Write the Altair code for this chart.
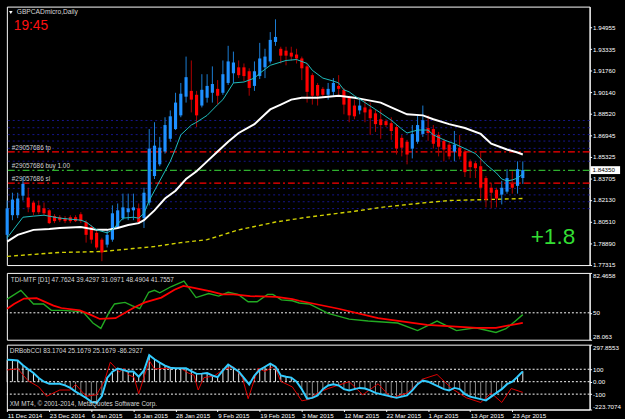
import json
import altair as alt
import pandas as pd

FONT = "Liberation Sans"

# ---------------- data ----------------
date_labels = ["11 Dec 2014", "23 Dec 2014", "6 Jan 2015", "16 Jan 2015", "28 Jan 2015",
               "9 Feb 2015", "19 Feb 2015", "3 Mar 2015", "12 Mar 2015", "22 Mar 2015",
               "1 Apr 2015", "13 Apr 2015", "23 Apr 2015"]

opens = [1.7954, 1.8100, 1.8100, 1.8245, 1.8231, 1.8194, 1.8173, 1.8151, 1.8136, 1.8093,
         1.8085, 1.8078, 1.8085, 1.8085, 1.8107, 1.8049, 1.8012, 1.7969, 1.7918, 1.7881,
         1.7918, 1.8012, 1.8078, 1.8122, 1.8136, 1.8151, 1.8078, 1.8194, 1.8391, 1.8478,
         1.8573, 1.8668, 1.8740, 1.8842, 1.8981, 1.9024, 1.8995, 1.8915, 1.8973, 1.9010,
         1.9039, 1.9010, 1.9083, 1.9155, 1.9199, 1.9199, 1.9170, 1.9061, 1.9134, 1.9199,
         1.9243, 1.9388, 1.9337, 1.9323, 1.9308, 1.9294, 1.9265, 1.9206, 1.9141, 1.9068,
         1.9039, 1.8995, 1.9017, 1.9061, 1.9032, 1.8973, 1.8915, 1.8879, 1.8901, 1.8886,
         1.8857, 1.8813, 1.8799, 1.8784, 1.8755, 1.8675, 1.8646, 1.8595, 1.8646, 1.8704,
         1.8748, 1.8740, 1.8697, 1.8653, 1.8624, 1.8573, 1.8602, 1.8573, 1.8500, 1.8486,
         1.8464, 1.8376, 1.8304, 1.8289, 1.8253, 1.8275, 1.8333, 1.8318, 1.8376]
highs = [1.8209, 1.8267, 1.8267, 1.8384, 1.8304, 1.8209, 1.8209, 1.8194, 1.8144, 1.8107,
         1.8100, 1.8093, 1.8100, 1.8100, 1.8122, 1.8063, 1.8027, 1.7991, 1.7932, 1.7991,
         1.8173, 1.8187, 1.8260, 1.8260, 1.8260, 1.8187, 1.8304, 1.8740, 1.8791, 1.8682,
         1.8828, 1.8879, 1.9010, 1.9083, 1.9279, 1.9250, 1.9024, 1.9148, 1.9148, 1.9206,
         1.9104, 1.9250, 1.9359, 1.9316, 1.9250, 1.9228, 1.9192, 1.9243, 1.9381, 1.9337,
         1.9461, 1.9556, 1.9352, 1.9352, 1.9352, 1.9337, 1.9279, 1.9228, 1.9155, 1.9083,
         1.9053, 1.9083, 1.9119, 1.9141, 1.9046, 1.8988, 1.8959, 1.8959, 1.8959, 1.8937,
         1.8886, 1.8886, 1.8813, 1.8828, 1.8770, 1.8697, 1.8660, 1.8770, 1.8842, 1.8915,
         1.8842, 1.8770, 1.8719, 1.8668, 1.8646, 1.8726, 1.8697, 1.8588, 1.8515, 1.8500,
         1.8573, 1.8391, 1.8340, 1.8304, 1.8355, 1.8442, 1.8427, 1.8500, 1.8500]
lows = [1.7918, 1.8063, 1.8078, 1.8209, 1.8122, 1.8100, 1.8107, 1.8100, 1.8034, 1.8041,
        1.8049, 1.8041, 1.8041, 1.8049, 1.8041, 1.7896, 1.7889, 1.7845, 1.7758, 1.7860,
        1.7903, 1.7998, 1.8063, 1.8063, 1.8063, 1.8034, 1.8005, 1.8173, 1.8369, 1.8464,
        1.8558, 1.8646, 1.8733, 1.8828, 1.8937, 1.8864, 1.8755, 1.8901, 1.8937, 1.8937,
        1.8922, 1.8995, 1.9068, 1.9083, 1.9119, 1.9097, 1.8988, 1.9024, 1.9112, 1.9119,
        1.9228, 1.9359, 1.9228, 1.9214, 1.9250, 1.9228, 1.9104, 1.8937, 1.8922, 1.8915,
        1.8973, 1.8959, 1.8988, 1.8995, 1.8850, 1.8791, 1.8813, 1.8850, 1.8791, 1.8697,
        1.8719, 1.8668, 1.8755, 1.8660, 1.8551, 1.8537, 1.8478, 1.8522, 1.8631, 1.8682,
        1.8653, 1.8595, 1.8537, 1.8500, 1.8515, 1.8500, 1.8515, 1.8384, 1.8376, 1.8376,
        1.8224, 1.8158, 1.8151, 1.8158, 1.8180, 1.8260, 1.8260, 1.8260, 1.8333]
closes = [1.8151, 1.8216, 1.8224, 1.8333, 1.8158, 1.8122, 1.8122, 1.8114, 1.8041, 1.8056,
          1.8063, 1.8056, 1.8056, 1.8056, 1.8056, 1.7954, 1.7918, 1.7860, 1.7823, 1.7954,
          1.8114, 1.8136, 1.8158, 1.8151, 1.8158, 1.8049, 1.8267, 1.8595, 1.8617, 1.8602,
          1.8770, 1.8835, 1.8937, 1.9003, 1.9126, 1.8959, 1.8842, 1.9032, 1.9061, 1.9075,
          1.8988, 1.9148, 1.9243, 1.9235, 1.9141, 1.9134, 1.9046, 1.9170, 1.9265, 1.9279,
          1.9403, 1.9425, 1.9286, 1.9286, 1.9279, 1.9265, 1.9192, 1.9017, 1.8988, 1.8988,
          1.8995, 1.9039, 1.9083, 1.9039, 1.8922, 1.8842, 1.8835, 1.8915, 1.8864, 1.8821,
          1.8777, 1.8770, 1.8770, 1.8726, 1.8595, 1.8602, 1.8551, 1.8704, 1.8770, 1.8806,
          1.8711, 1.8631, 1.8609, 1.8588, 1.8537, 1.8624, 1.8537, 1.8420, 1.8457, 1.8449,
          1.8304, 1.8216, 1.8267, 1.8224, 1.8304, 1.8376, 1.8304, 1.8442, 1.8435]

# moving averages (bar index, price)
ma_fast_bar = [0, 3, 5, 7, 10, 14, 15, 17, 19, 20, 22, 24, 25, 26, 27, 29, 31, 32, 33, 35, 36, 38, 40, 41,
               43, 45, 47, 48, 50, 53, 55, 57, 58, 60, 62, 63, 64, 65, 66, 68, 70, 73, 75, 76, 78, 80,
               81, 83, 85, 87, 89, 91, 93, 94, 95, 96, 97, 98]
ma_fast_val = [1.7932, 1.8085, 1.8093, 1.8100, 1.8078, 1.8063, 1.8049, 1.7991, 1.7969, 1.7991, 1.8078,
               1.8085, 1.8078, 1.8114, 1.8209, 1.8355, 1.8500, 1.8595, 1.8697, 1.8770, 1.8791, 1.8842,
               1.8922, 1.8959, 1.9083, 1.9090, 1.9119, 1.9155, 1.9214, 1.9250, 1.9257, 1.9228, 1.9177,
               1.9119, 1.9097, 1.9083, 1.9032, 1.9017, 1.8988, 1.8937, 1.8886, 1.8806, 1.8740, 1.8711,
               1.8733, 1.8733, 1.8697, 1.8660, 1.8631, 1.8595, 1.8558, 1.8478, 1.8413, 1.8369, 1.8355,
               1.8362, 1.8376, 1.8406]
ma_mid_bar = [0, 2, 5, 8, 10, 14, 17, 19, 21, 23, 25, 26, 28, 30, 32, 34, 36, 38, 40, 42, 44, 47, 49, 50,
              52, 54, 56, 59, 61, 63, 66, 68, 71, 73, 76, 79, 81, 84, 87, 90, 92, 95, 97, 98]
ma_mid_val = [1.7903, 1.7954, 1.7991, 1.7998, 1.8005, 1.8012, 1.7991, 1.7991, 1.8005, 1.8027, 1.8041,
              1.8063, 1.8136, 1.8224, 1.8282, 1.8369, 1.8427, 1.8500, 1.8573, 1.8646, 1.8711, 1.8777,
              1.8850, 1.8886, 1.8922, 1.8959, 1.8973, 1.8973, 1.8981, 1.8988, 1.8973, 1.8959, 1.8937,
              1.8901, 1.8850, 1.8842, 1.8813, 1.8777, 1.8748, 1.8704, 1.8631, 1.8588, 1.8566, 1.8551]
ma_slow_bar = [0, 10, 18, 24, 28, 33, 38, 44, 51, 57, 66, 71, 78, 84, 91, 98]
ma_slow_val = [1.7794, 1.7823, 1.7830, 1.7852, 1.7867, 1.7896, 1.7918, 1.7991, 1.8049, 1.8085, 1.8129,
               1.8158, 1.8187, 1.8209, 1.8216, 1.8224]

grid_levels = [1.8804, 1.8750, 1.8699, 1.8651, 1.8597, 1.8501, 1.8299, 1.8251, 1.8200, 1.8149]
order_names = ["#29057686 tp", "#29057686 buy 1.00", "#29057686 sl"]
order_prices = [1.8571, 1.8433, 1.8338]
order_colors = ["#FF0000", "#2FB02F", "#FF0000"]
price_ticks = [1.94955, 1.93335, 1.91760, 1.90140, 1.88520, 1.86945, 1.85325,
               1.83705, 1.82130, 1.80510, 1.78890, 1.77315]
bid_price = 1.84350

# TDI
tdi_green_bar = [0, 2.6, 5, 6.9, 8.4, 10.7, 14.4, 16.3, 17.8, 19.4, 20.4, 22.4, 23.7, 25.2, 26.9, 28, 29,
                 31.2, 33.6, 35.9, 38.3, 40.2, 42, 43.9, 45.8, 47.5, 49.5, 50.5, 52.1, 54.2, 55.5, 57.4,
                 61, 65, 68.6, 74.2, 78, 81.7, 85.4, 89, 92.9, 94.8, 96.6, 98]
tdi_green_val = [61.1, 68.3, 57.2, 57.2, 52.0, 52.0, 50.8, 41.7, 37.3, 50.8, 57.2, 58.5, 55.9, 53.3, 66.7,
                 68.3, 66.3, 71.4, 75.8, 62.4, 65.7, 63.6, 66.7, 65.0, 59.0, 59.0, 65.0, 65.0, 60.5, 59.8,
                 58.0, 57.2, 49.5, 44.8, 43.3, 41.7, 35.5, 43.3, 35.5, 37.8, 34.0, 37.0, 43.3, 48.5]
tdi_red_bar = [0, 1.3, 3.2, 5.6, 8.8, 10.3, 13.8, 15.7, 17.6, 20.6, 24.3, 26.2, 29.3, 31.8, 33.5, 35.5,
               38.7, 40.9, 43, 46.2, 51.2, 54.2, 55.5, 63, 70.5, 79.8, 89.2, 92.9, 98]
tdi_red_val = [53.3, 57.2, 61.6, 61.9, 55.9, 53.9, 52.0, 48.7, 45.0, 45.6, 54.7, 58.5, 62.4, 68.8, 71.9,
               70.2, 67.5, 65.0, 65.0, 63.6, 62.9, 61.1, 59.8, 53.3, 45.6, 40.2, 37.8, 37.8, 41.8]

# DRBobCCI
cci_vals = [177, 175, 170, 133, 100, 70, 30, 0, -17, -17, -17, -30, -50, -80, -105, -130, -162, -170,
            -115, 30, 80, 105, 95, 82, 82, 40, 90, 213, 180, 153, 130, 112, 108, 108, 108, 85, 63, 65,
            70, 50, 37, 90, 138, 110, 82, 30, -22, 50, 95, 120, 145, 120, 50, 40, 33, 0, -60, -137,
            -130, -110, -60, -30, -20, -30, -60, -70, -60, -50, -55, -70, -90, -100, -110, -120, -130,
            -120, -110, -70, -20, 10, 0, -20, -40, -60, -70, -50, -60, -100, -120, -130, -140, -150,
            -120, -90, -60, -20, 0, 40, 83]
cci_red_bar = [0, 2, 4, 6, 7.5, 10, 12, 13, 15, 17, 18.5, 19.6, 21.3, 22.2, 23.2, 24.1, 25, 27, 28, 30.6,
               33, 34.4, 35.5, 36.3, 37.4, 39.3, 41, 43, 44.7, 45.8, 47.7, 49, 50.8, 52, 54.2, 56, 57.4,
               58.9, 61, 65, 67.6, 70.5, 73, 76, 78.9, 81.7, 84.5, 87.3, 90, 92, 94, 95.8, 98]
cci_red_val = [95, 103, 7, -42, -117, -67, -67, -22, -117, -105, 7, 157, 78, 108, 52, 37, -97, 170, 103,
               108, 108, 70, 52, -67, 33, 45, 95, 120, 33, -137, 108, 82, 127, 3, -42, -154, -142, -92,
               -55, 0, -105, -17, -130, -92, 20, 58, -55, -130, -167, -92, -167, -55, -86]

# ---------------- frames ----------------
n = len(opens)
candles = pd.DataFrame({"i": list(range(n)), "o": opens, "h": highs, "l": lows, "c": closes})
fast = pd.DataFrame({"i": ma_fast_bar, "v": ma_fast_val})
mid = pd.DataFrame({"i": ma_mid_bar, "v": ma_mid_val})
slow = pd.DataFrame({"i": ma_slow_bar, "v": ma_slow_val})
grid = pd.DataFrame({"p": grid_levels})
orders = pd.DataFrame({"name": order_names, "p": order_prices, "col": order_colors})
tg = pd.DataFrame({"i": tdi_green_bar, "v": tdi_green_val})
tr = pd.DataFrame({"i": tdi_red_bar, "v": tdi_red_val})
cci = pd.DataFrame({"i": list(range(n)), "v": cci_vals})
ccr = pd.DataFrame({"i": cci_red_bar, "v": cci_red_val})

W = 593
XS = alt.Scale(domain=[-0.056, 110.70], nice=False, zero=False)
PS = alt.Scale(domain=[1.77293, 1.96505], nice=False, zero=False)
TS = alt.Scale(domain=[28.063, 82.4658], nice=False, zero=False)
CS = alt.Scale(domain=[-223.7074, 297.8553], nice=False, zero=False)

AX = dict(labelColor="white", tickColor="white", domainColor="white", tickSize=2, labelPadding=1,
          labelFontSize=6.3, labelFont=FONT, grid=False, title=None, orient="right", labelOverlap=False)
p_axis = alt.Axis(values=price_ticks, format=".5f", **AX)
t_axis = alt.Axis(values=[28.063, 50, 82.4658], format=".4~f", labelFlush=True, **AX)
c_axis = alt.Axis(values=[-223.7074, -100, 0, 100, 297.8553], labelFlush=True,
                  labelExpr="datum.value == 0 ? '0.00' : replace(format(datum.value, '.4~f'), '\u2212', '-')",
                  **AX)
xn = alt.X("i:Q", scale=XS, axis=None)
x_axis = alt.Axis(
    values=list(range(0, 97, 8)), labelExpr=json.dumps(date_labels) + "[round(datum.value / 8)]",
    labelAlign="left", labelColor="white", tickColor="white", domainColor="white", tickSize=2,
    labelPadding=1, labelFontSize=6.3, labelFont=FONT, grid=False, title=None, labelFlush=False,
    labelOverlap=False, labelBaseline="top")
xd = alt.X("i:Q", scale=XS, axis=x_axis)

up = "datum.c >= datum.o"
wick = alt.Chart(candles).mark_rule(strokeWidth=1).encode(
    x=xn, y=alt.Y("l:Q", scale=PS, axis=p_axis), y2="h:Q",
    color=alt.condition(up, alt.value("#1C7ED6"), alt.value("#B00000")))
body = alt.Chart(candles).mark_rule(strokeWidth=3.2).encode(
    x=xn, y=alt.Y("o:Q", scale=PS, axis=p_axis), y2="c:Q",
    color=alt.condition(up, alt.value("#1E90FF"), alt.value("#FF0000")))
grid_l = alt.Chart(grid).mark_rule(color="#16168C", strokeWidth=1, strokeDash=[2, 3]).encode(
    y=alt.Y("p:Q", scale=PS, axis=p_axis))
order_l = alt.Chart(orders).mark_rule(strokeWidth=1.2, strokeDash=[7, 3, 2, 3]).encode(
    y=alt.Y("p:Q", scale=PS, axis=p_axis), color=alt.Color("col:N", scale=None))
order_t = alt.Chart(orders).mark_text(align="left", baseline="bottom", dy=-1, fontSize=6.5,
                                      font=FONT, color="#D0D0D0").encode(
    x=alt.value(5), y=alt.Y("p:Q", scale=PS, axis=p_axis), text="name:N")
slow_l = alt.Chart(slow).mark_line(color="#D2D200", strokeWidth=1.4, strokeDash=[4, 3]).encode(
    x=xn, y=alt.Y("v:Q", scale=PS, axis=p_axis))
mid_l = alt.Chart(mid).mark_line(color="white", strokeWidth=2).encode(
    x=xn, y=alt.Y("v:Q", scale=PS, axis=p_axis))
fast_l = alt.Chart(fast).mark_line(color="#20C0C0", strokeWidth=1).encode(
    x=xn, y=alt.Y("v:Q", scale=PS, axis=p_axis))

ann = pd.DataFrame({"t": ["GBPCADmicro,Daily"]})
title_t = alt.Chart(ann).mark_text(align="left", baseline="middle", fontSize=6.8, font=FONT,
                                   color="#D8D8D8").encode(x=alt.value(10), y=alt.value(6), text="t:N")
tri = alt.Chart(ann).mark_point(shape="triangle-down", filled=True, size=14, color="white",
                                opacity=1).encode(x=alt.value(4), y=alt.value(6))
clock = alt.Chart(pd.DataFrame({"t": ["19:45"]})).mark_text(
    align="left", baseline="middle", fontSize=14, font=FONT, color="#FF1010").encode(
    x=alt.value(7), y=alt.value(20), text="t:N")
profit = alt.Chart(pd.DataFrame({"t": ["+1.8"]})).mark_text(
    align="left", baseline="middle", fontSize=23, font=FONT, color="#33DD33").encode(
    x=alt.value(533), y=alt.value(235), text="t:N")
bid_df = pd.DataFrame({"p": [bid_price], "t": ["1.84350"]})
bid_box = alt.Chart(bid_df).mark_rule(strokeWidth=8, color="white").encode(
    y=alt.Y("p:Q", scale=PS, axis=p_axis), x=alt.value(W + 1), x2=alt.value(W + 31))
bid_txt = alt.Chart(bid_df).mark_text(align="left", baseline="middle", fontSize=6.3, font=FONT,
                                      color="black").encode(
    y=alt.Y("p:Q", scale=PS, axis=p_axis), x=alt.value(W + 3), text="t:N")

main = alt.layer(grid_l, order_l, order_t, slow_l, wick, body, mid_l, fast_l,
                 title_t, tri, clock, profit, bid_box, bid_txt).properties(width=W, height=263)

# TDI panel
t_lbl = alt.Chart(pd.DataFrame({"t": ["TDI-MTF [D1] 47.7624 39.4297 31.0971 48.4904 41.7557"]})).mark_text(
    align="left", baseline="middle", fontSize=6.5, font=FONT, color="#D8D8D8").encode(
    x=alt.value(4), y=alt.value(7), text="t:N")
t50 = alt.Chart(pd.DataFrame({"v": [50]})).mark_rule(color="white", strokeDash=[2, 2], strokeWidth=1).encode(
    y=alt.Y("v:Q", scale=TS, axis=t_axis))
t_g = alt.Chart(tg).mark_line(color="#22AA22", strokeWidth=1.4).encode(
    x=xn, y=alt.Y("v:Q", scale=TS, axis=t_axis))
t_r = alt.Chart(tr).mark_line(color="#FF0000", strokeWidth=1.8).encode(
    x=xn, y=alt.Y("v:Q", scale=TS, axis=t_axis))
tdi = alt.layer(t50, t_g, t_r, t_lbl).properties(width=W, height=68)

# CCI panel
lev = alt.Chart(pd.DataFrame({"v": [100, 0, -100]})).mark_rule(
    color="white", strokeDash=[2, 2], strokeWidth=1).encode(y=alt.Y("v:Q", scale=CS, axis=c_axis))
hist = alt.Chart(cci).mark_rule(strokeWidth=1).encode(
    x=xd, y=alt.Y("v:Q", scale=CS, axis=c_axis), y2=alt.datum(0),
    color=alt.condition("datum.v >= 0", alt.value("#E8E8E8"), alt.value("#8A8A8A")))
c_red = alt.Chart(ccr).mark_line(color="#E00000", strokeWidth=1).encode(
    x=xd, y=alt.Y("v:Q", scale=CS, axis=c_axis))
c_cyan = alt.Chart(cci).mark_line(color="#33CCFF", strokeWidth=2).encode(
    x=xd, y=alt.Y("v:Q", scale=CS, axis=c_axis))
c_lbl = alt.Chart(pd.DataFrame({"t": ["DRBobCCI 83.1704 25.1679 25.1679 -86.2927"]})).mark_text(
    align="left", baseline="middle", fontSize=6.5, font=FONT, color="#D8D8D8").encode(
    x=alt.value(3), y=alt.value(6), text="t:N")
c_cr = alt.Chart(pd.DataFrame({"t": ["XM MT4, \u00a9 2001-2014, MetaQuotes Software Corp."]})).mark_text(
    align="left", baseline="middle", fontSize=6.5, font=FONT, color="#D8D8D8").encode(
    x=alt.value(3), y=alt.value(60), text="t:N")
ccip = alt.layer(lev, hist, c_red, c_cyan, c_lbl, c_cr).properties(width=W, height=66)

chart = alt.vconcat(main, tdi, ccip, spacing=3).configure(
    background="black", padding={"left": 2, "top": 2, "right": 0, "bottom": 0}
).configure_view(stroke="white", strokeWidth=1)

chart.save("out.html", embed_options={"renderer": "svg", "actions": False})
